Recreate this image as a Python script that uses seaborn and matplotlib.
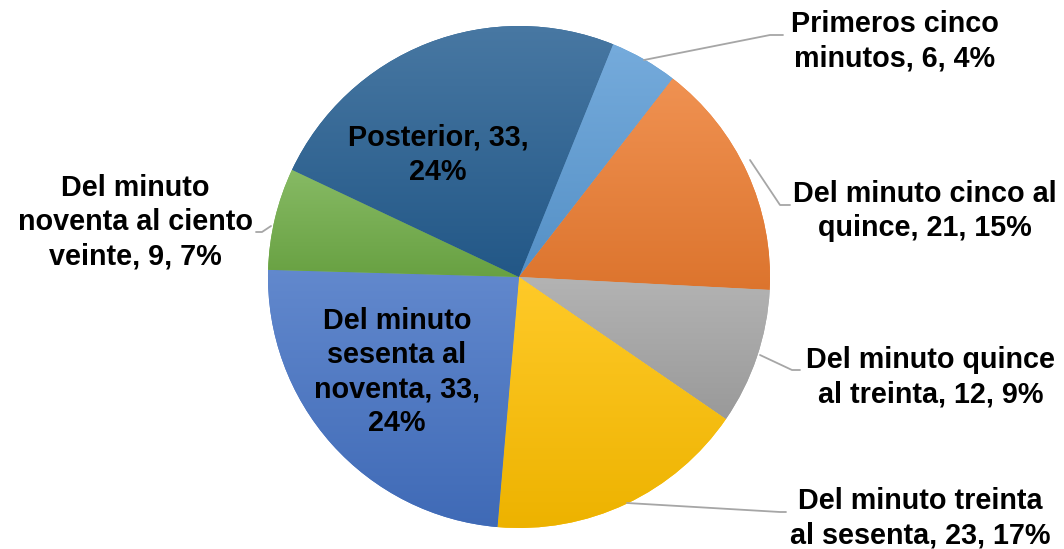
import numpy as np
import seaborn as sns
import matplotlib.pyplot as plt
from matplotlib.colors import to_rgb

# Minute ranges and counts, clockwise from the first slice
categories = ['Primeros cinco\nminutos', 'Del minuto cinco al\nquince', 'Del minuto quince\nal treinta',
              'Del minuto treinta\nal sesenta', 'Del minuto\nsesenta al\nnoventa', 'Del minuto\nnoventa al ciento\nveinte',
              'Posterior']
counts = [6, 21, 12, 23, 33, 9, 33]
colors = ['#5B9BD5', '#ED7D31', '#A5A5A5', '#FFC000', '#4472C4', '#70AD47', '#255E91']

sns.set_theme(style='white')
plt.rcParams['font.family'] = ['Liberation Sans', 'DejaVu Sans']

fig = plt.figure(figsize=(10.64, 5.49), dpi=100)
ax = fig.add_axes([0, 0, 1, 1])

H = 549
wedges, _ = ax.pie(counts, colors=colors, startangle=68, counterclock=False,
                   center=(519, H - 277), radius=251, frame=True,
                   wedgeprops=dict(linewidth=0))
ax.set_xlim(0, 1064)
ax.set_ylim(0, 549)
ax.set_aspect('equal')
ax.axis('off')

# soft vertical gradient inside each slice (lighter at top, darker at bottom)
for w, c in zip(wedges, colors):
    base = np.array(to_rgb(c))
    top = base + (1 - base) * 0.16
    bot = base * 0.93
    t = np.linspace(0, 1, 256)[:, None]
    grad = (top[None, :] * (1 - t) + bot[None, :] * t)[:, None, :]
    bb = w.get_path().get_extents(w.get_patch_transform())
    im = ax.imshow(grad, extent=[bb.x0, bb.x1, bb.y0, bb.y1], aspect='auto',
                   origin='upper', zorder=w.get_zorder() + 0.1, interpolation='bilinear')
    im.set_clip_path(w)
ax.set_xlim(0, 1064)
ax.set_ylim(0, 549)

total = sum(counts)
labels = []
for c, n in zip(categories, counts):
    pct = round(100 * n / total)
    if c == 'Posterior':
        labels.append(f'{c}, {n},\n{pct}%')
    elif c.startswith('Del minuto\nsesenta'):
        labels.append(f'Del minuto\nsesenta al\nnoventa, {n},\n{pct}%')
    else:
        labels.append(f'{c}, {n}, {pct}%')

# label placement (pixel coords of text center) and leader lines
label_pos = [(895, 41), (925, 211), (931, 377), (920, 518), (397, 372), (135, 222), (438, 155)]
leaders = [[(644, 60), (770, 35), (783, 35)],
           [(750, 160), (780, 205), (790, 205)],
           [(760, 355), (792, 370), (800, 370)],
           [(627, 503), (780, 512), (786, 512)],
           None,
           [(271, 226), (262, 232), (256, 232)],
           None]

for lab, (x, y), ld in zip(labels, label_pos, leaders):
    ax.text(x, H - y, lab, ha='center', va='center', fontsize=20.7, fontweight='bold',
            color='black', linespacing=1.28, zorder=5)
    if ld:
        xs = [p[0] for p in ld]
        ys = [H - p[1] for p in ld]
        ax.plot(xs, ys, color='#A6A6A6', lw=1.3, zorder=4)

fig.savefig('out.png', dpi=100)
